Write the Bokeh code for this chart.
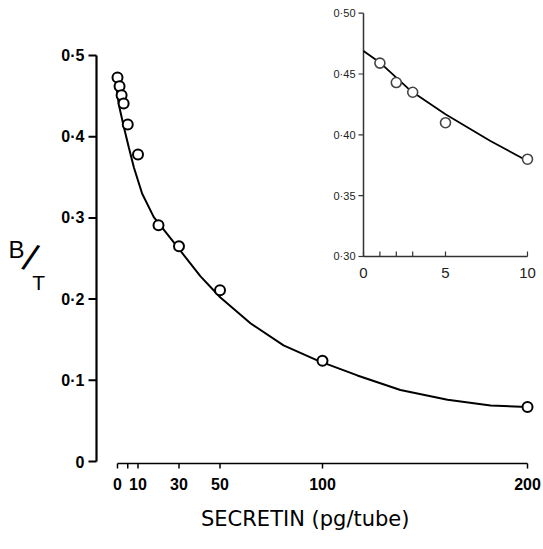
from math import pi
from bokeh.plotting import figure
from bokeh.models import Range1d
from bokeh.core.properties import value
from bokeh.embed import file_html
from bokeh.resources import INLINE

# ---- data ----
main_x = [0, 1, 2, 3, 5, 10, 20, 30, 50, 100, 200]
main_y = [0.473, 0.462, 0.451, 0.441, 0.415, 0.378, 0.291, 0.265, 0.211, 0.124, 0.067]

curve_x = [-0.8, 0.6, 3.1, 5.5, 8, 12, 17.7, 29.6, 40.5, 50.2, 65, 81, 98, 117, 138, 161, 182, 200]
curve_y = [0.467, 0.440, 0.412, 0.387, 0.362, 0.330, 0.301, 0.263, 0.228, 0.202, 0.170,
           0.143, 0.124, 0.106, 0.088, 0.076, 0.069, 0.067]

inset_x = [1, 2, 3, 5, 10]
inset_y = [0.459, 0.443, 0.435, 0.410, 0.380]
inset_curve_x = [0, 1.04, 2.9, 5, 7.74, 10]
inset_curve_y = [0.469, 0.459, 0.436, 0.417, 0.395, 0.3785]

main_xticks = [0, 5, 10, 30, 50, 100, 200]
main_xlabels = ["0", "", "10", "30", "50", "100", "200"]
main_yticks = [0, 0.1, 0.2, 0.3, 0.4, 0.5]
main_ylabels = ["0", "0·1", "0·2", "0·3", "0·4", "0·5"]

inset_xticks = [0, 1, 2, 3, 5, 10]
inset_xlabels = ["0", "", "", "", "5", "10"]
inset_yticks = [0.30, 0.35, 0.40, 0.45, 0.50]
inset_ylabels = ["0·30", "0·35", "0·40", "0·45", "0·50"]

x_title = "SECRETIN  (pg/tube)"
y_title = ["B", "/", "T"]

# ---- layout constants (range limits, axis placement) ----
FONT = "Liberation Sans"
Y_AXIS_AT = -10.244      # main-x position where the main y axis is drawn
X_AXIS_AT = -0.0025      # main-y position where the main x axis is drawn

p = figure(width=543, height=549,
           x_range=Range1d(-57.07, 207.80), y_range=Range1d(-0.10837, 0.56773),
           x_axis_location=None, y_axis_location=None,
           output_backend="svg", toolbar_location=None,
           min_border_left=0, min_border_right=0, min_border_top=0, min_border_bottom=0)
p.xgrid.grid_line_color = None
p.ygrid.grid_line_color = None
p.outline_line_color = None
p.background_fill_color = "white"

# main x axis
p.line([main_xticks[0], main_xticks[-1]], [X_AXIS_AT, X_AXIS_AT], line_color="black", line_width=1.6)
p.ray(x=main_xticks, y=[X_AXIS_AT] * len(main_xticks), length=5, length_units="screen",
      angle=-pi / 2, line_color="black", line_width=1.5)
p.text(x=main_xticks, y=[X_AXIS_AT] * len(main_xticks), text=main_xlabels,
       text_align="center", text_baseline="middle", y_offset=20,
       text_font=value(FONT), text_font_style="bold", text_font_size="16px", text_color="black")
p.text(x=[(main_xticks[0] + main_xticks[-1]) / 2 - 6.8], y=[X_AXIS_AT], text=[x_title],
       text_align="center", text_baseline="middle", y_offset=55,
       text_font=value("DejaVu Sans"), text_font_size="21px", text_color="black")

# main y axis
p.line([Y_AXIS_AT, Y_AXIS_AT], [main_yticks[0], main_yticks[-1]], line_color="black", line_width=2.2)
p.ray(x=[Y_AXIS_AT] * len(main_yticks), y=main_yticks, length=8, length_units="screen",
      angle=pi, line_color="black", line_width=2)
p.text(x=[Y_AXIS_AT] * len(main_yticks), y=main_yticks, text=main_ylabels,
       text_align="right", text_baseline="middle", x_offset=-12,
       text_font=value(FONT), text_font_style="bold", text_font_size="16px", text_color="black")

# B/T label
p.text(x=[-49.3], y=[0.2611], text=[y_title[0]], text_align="center", text_baseline="middle",
       text_font=value(FONT), text_font_size="24px", text_color="black")
p.text(x=[-42.4], y=[0.2506], text=[y_title[1]], text_align="center", text_baseline="middle",
       angle=-0.33, text_font=value(FONT), text_font_size="38px", text_color="black")
p.text(x=[-38.5], y=[0.2204], text=[y_title[2]], text_align="center", text_baseline="middle",
       text_font=value(FONT), text_font_size="21px", text_color="black")

# main curve and points
p.line(curve_x, curve_y, line_color="black", line_width=2)
p.scatter(main_x, main_y, size=10, marker="circle", fill_color="white",
          line_color="black", line_width=2)

# ---- inset (drawn on extra ranges inside the same frame) ----
p.extra_x_ranges = {"ix": Range1d(-22.134, 10.9756)}
p.extra_y_ranges = {"iy": Range1d(0.059137, 0.51044)}
kw = dict(x_range_name="ix", y_range_name="iy")
axc = "#333333"

p.line([inset_xticks[0], inset_xticks[-1]], [inset_yticks[0], inset_yticks[0]],
       line_color=axc, line_width=1.5, **kw)
p.line([inset_xticks[0], inset_xticks[0]], [inset_yticks[0], inset_yticks[-1]],
       line_color=axc, line_width=1.5, **kw)
p.ray(x=inset_xticks, y=[inset_yticks[0]] * len(inset_xticks), length=5,
      length_units="screen", angle=pi / 2, line_color=axc, line_width=1.2, **kw)
p.ray(x=[inset_xticks[0]] * len(inset_yticks), y=inset_yticks, length=5,
      length_units="screen", angle=pi, line_color=axc, line_width=1.2, **kw)
p.text(x=inset_xticks, y=[inset_yticks[0]] * len(inset_xticks), text=inset_xlabels,
       text_align="center", text_baseline="middle", y_offset=17,
       text_font=value(FONT), text_font_size="15px", text_color="#222222", **kw)
p.text(x=[inset_xticks[0]] * len(inset_yticks), y=inset_yticks, text=inset_ylabels,
       text_align="right", text_baseline="middle", x_offset=-8,
       text_font=value(FONT), text_font_size="11px", text_color="#222222", **kw)

p.line(inset_curve_x, inset_curve_y, line_color="black", line_width=1.8, **kw)
p.scatter(inset_x, inset_y, size=10, marker="circle", fill_color="white",
          line_color="#444444", line_width=1.6, **kw)

open("out.html", "w").write(file_html(p, INLINE))
